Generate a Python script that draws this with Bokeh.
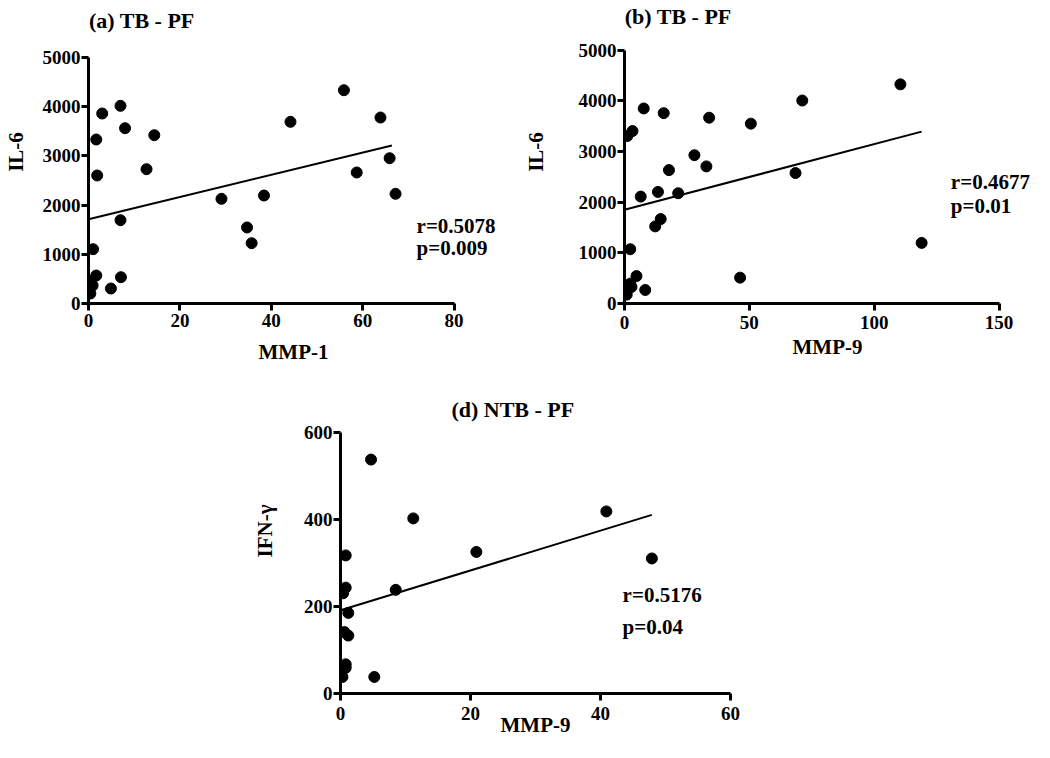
from bokeh.plotting import figure
from bokeh.models import Range1d, FixedTicker, Spacer
from bokeh.layouts import column, row
from bokeh.embed import file_html
from bokeh.resources import INLINE
from bokeh.core.properties import value

FONT = "Liberation Serif"

# ---------------- data ----------------
# (a) TB - PF : MMP-1 vs IL-6
mmp1_a = [55.9, 7.0, 3.0, 8.0, 14.4, 1.7, 12.7, 1.9, 44.2, 63.9, 65.9, 58.7, 67.2,
          38.4, 29.1, 7.0, 34.7, 35.7, 1.0, 1.7, 7.1, 4.9, 0.6, 0.9, 0.4]
il6_a = [4335, 4018, 3862, 3563, 3421, 3333, 2730, 2602, 3693, 3780, 2953, 2663, 2230,
         2195, 2128, 1693, 1545, 1226, 1104, 569, 535, 305, 453, 366, 203]
fit_a_x = [0, 66.4]
fit_a_y = [1713, 3211]
stats_a = ["r=0.5078", "p=0.009"]

# (b) TB - PF : MMP-9 vs IL-6
mmp9_b = [110.5, 71.2, 7.7, 15.7, 33.9, 50.6, 3.2, 1.1, 28.0, 32.8, 17.8, 68.5, 13.4,
          21.5, 6.5, 14.5, 12.3, 119.0, 2.3, 4.8, 46.3, 8.3, 2.3, 2.8, 0.9]
il6_b = [4325, 4006, 3849, 3757, 3667, 3549, 3404, 3306, 2927, 2706, 2633, 2575, 2202,
         2176, 2110, 1667, 1522, 1196, 1071, 541, 510, 267, 392, 326, 176]
fit_b_x = [0, 119]
fit_b_y = [1849, 3392]
stats_b = ["r=0.4677", "p=0.01"]

# (d) NTB - PF : MMP-9 vs IFN-gamma
mmp9_d = [4.7, 11.2, 40.9, 20.9, 47.9, 8.5, 0.8, 0.8, 0.4, 1.2, 0.6, 1.2, 0.8, 0.8, 0.3, 5.2]
ifng_d = [537, 402, 418, 325, 310, 238, 317, 243, 230, 185, 141, 133, 67, 59, 38, 38]
fit_d_x = [0, 47.9]
fit_d_y = [191, 410]
stats_d = ["r=0.5176", "p=0.04"]

ticks_il6 = [0, 1000, 2000, 3000, 4000, 5000]
ticks_mmp1_a = [0, 20, 40, 60, 80]
ticks_mmp9_b = [0, 50, 100, 150]
ticks_mmp9_d = [0, 20, 40, 60]
ticks_ifng = [0, 200, 400, 600]


def panel(title, title_xy, xs, ys, fx, fy, stats, stats_x, stats_y, xticks, yticks,
          xlabel, ylabel, xr, yr, width, height, borders,
          x_lab_standoff, x_axlab_standoff, y_axlab_standoff):
    bl, br, bt, bb = borders
    p = figure(width=width, height=height, output_backend="svg", toolbar_location=None,
               x_range=Range1d(*xr), y_range=Range1d(*yr),
               min_border_left=bl, min_border_right=br, min_border_top=bt, min_border_bottom=bb)
    p.outline_line_color = None
    p.xgrid.visible = False
    p.ygrid.visible = False
    p.background_fill_color = "white"
    p.border_fill_color = "white"

    p.line(fx, fy, line_color="black", line_width=2)
    p.scatter(xs, ys, size=11, fill_color="black", line_color="black")
    p.text(x=stats_x, y=stats_y, text=stats, text_font=value(FONT), text_font_style="bold",
           text_font_size="21px", text_color="black", text_align="left", text_baseline="middle")
    # panel title
    p.text(x=[title_xy[0]], y=[title_xy[1]], text=[title], text_font=value(FONT),
           text_font_style="bold", text_font_size="22px", text_color="black",
           text_align="left", text_baseline="alphabetic")

    for ax in (p.xaxis[0], p.yaxis[0]):
        ax.axis_line_width = 3
        ax.axis_line_color = "black"
        ax.major_tick_line_width = 3
        ax.major_tick_line_color = "black"
        ax.major_tick_out = 7
        ax.major_tick_in = 0
        ax.minor_tick_line_color = None
        ax.major_label_text_font = FONT
        ax.major_label_text_font_style = "bold"
        ax.major_label_text_font_size = "19px"
        ax.major_label_text_color = "black"
        ax.axis_label_text_font = FONT
        ax.axis_label_text_font_style = "bold"
        ax.axis_label_text_font_size = "21px"
        ax.axis_label_text_color = "black"
    p.xaxis[0].ticker = FixedTicker(ticks=xticks)
    p.yaxis[0].ticker = FixedTicker(ticks=yticks)
    p.xaxis[0].bounds = (xticks[0], xticks[-1])
    p.yaxis[0].bounds = (yticks[0], yticks[-1])
    p.xaxis[0].axis_label = xlabel
    p.yaxis[0].axis_label = ylabel
    p.xaxis[0].major_label_standoff = x_lab_standoff
    p.yaxis[0].major_label_standoff = 1
    p.xaxis[0].axis_label_standoff = x_axlab_standoff
    p.yaxis[0].axis_label_standoff = y_axlab_standoff
    return p


pa = panel("(a) TB - PF", (0.1, 5746), mmp1_a, il6_a, fit_a_x, fit_a_y, stats_a,
           [71.8, 71.8], [1585, 1118], ticks_mmp1_a, ticks_il6, "MMP-1", "IL-6",
           (0, 89.73), (0, 6158.5), 520, 368, (83, 22, 0, 65), 3, 10, 12)

pb = panel("(b) TB - PF", (0.1, 5667), mmp9_b, il6_b, fit_b_x, fit_b_y, stats_b,
           [130.7, 130.7], [2398, 1927], ticks_mmp9_b, ticks_il6, "MMP-9", "IL-6",
           (0, 162.6), (0, 5980), 510, 368, (101, 0, 0, 63), 5, 3, 28)

pd_ = panel("(d) NTB - PF", (17.06, 652.7), mmp9_d, ifng_d, fit_d_x, fit_d_y, stats_d,
            [43.4, 43.4], [226.6, 153], ticks_mmp9_d, ticks_ifng, "MMP-9", "IFN-γ",
            (0, 60), (0, 746.1), 501, 373, (90, 20, 0, 48), 6, -10, 24)

layout = column(row(pa, pb), row(Spacer(width=249, height=373), pd_))

open("out.html", "w").write(file_html(layout, INLINE))
